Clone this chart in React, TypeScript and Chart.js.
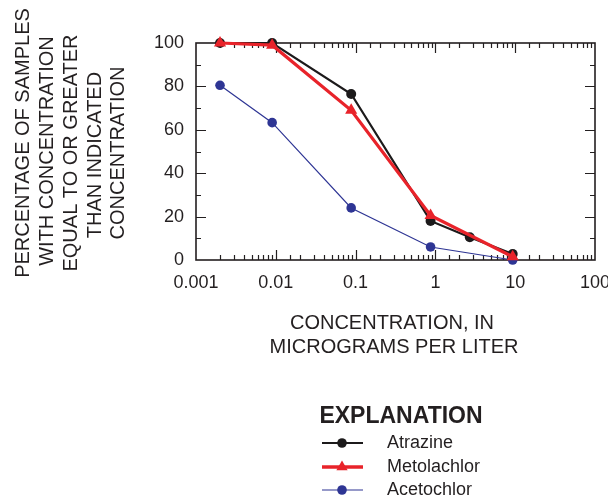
import React, { useEffect, useRef } from 'react';
import { Chart, registerables } from 'chart.js';

Chart.register(...registerables);

const FONT = '"Liberation Sans", Arial, Helvetica, sans-serif';
const INK = '#231f20';

const X_TICK_LABELS = ['0.001', '0.01', '0.1', '1', '10', '100'];
const Y_TICK_LABELS = ['0', '20', '40', '60', '80', '100'];

const ATRAZINE_X = [0.002, 0.009, 0.088, 0.87, 2.7, 9.3];
const ATRAZINE_Y = [100, 100, 76.5, 18, 10.5, 2.8];

const METOLACHLOR_X = [0.002, 0.009, 0.088, 0.87, 9.3];
const METOLACHLOR_Y = [100, 99, 69, 20.5, 1.5];

const ACETOCHLOR_X = [0.002, 0.009, 0.088, 0.87, 9.3];
const ACETOCHLOR_Y = [80.5, 63.3, 24, 6, 0];

const SERIES_NAMES = ['Atrazine', 'Metolachlor', 'Acetochlor'];
const Y_TITLE_LINES = [
  'PERCENTAGE OF SAMPLES',
  'WITH CONCENTRATION',
  'EQUAL TO OR GREATER',
  'THAN INDICATED',
  'CONCENTRATION',
];
const X_TITLE_LINES = ['CONCENTRATION, IN', 'MICROGRAMS PER LITER'];
const LEGEND_TITLE = 'EXPLANATION';

const COLORS = { atrazine: '#1c1a1b', metolachlor: '#e8232a', acetochlor: '#2e3594' };

const pts = (xs: number[], ys: number[]) => xs.map((x, i) => ({ x, y: ys[i] }));

const framePlugin = {
  id: 'frameTicks',
  beforeDatasetsDraw(chart: any) {
    const { ctx, chartArea: a, scales } = chart;
    ctx.save();
    ctx.strokeStyle = INK;
    ctx.lineWidth = 1.2;
    ctx.beginPath();
    for (const t of scales.x.ticks) {
      const v = t.value;
      const lg = Math.log10(v);
      const major = Math.abs(lg - Math.round(lg)) < 1e-6;
      const px = Math.round(scales.x.getPixelForValue(v)) + 0.5;
      if (px <= a.left + 1 || px >= a.right - 1) continue;
      const len = major ? 10 : 5;
      ctx.moveTo(px, a.bottom);
      ctx.lineTo(px, a.bottom - len);
      ctx.moveTo(px, a.top);
      ctx.lineTo(px, a.top + len);
    }
    for (const t of scales.y.ticks) {
      const v = t.value;
      const major = Math.abs(v % 20) < 1e-6;
      const py = Math.round(scales.y.getPixelForValue(v)) + 0.5;
      if (py <= a.top + 1 || py >= a.bottom - 1) continue;
      const len = major ? 10 : 5;
      ctx.moveTo(a.left, py);
      ctx.lineTo(a.left + len, py);
      ctx.moveTo(a.right, py);
      ctx.lineTo(a.right - len, py);
    }
    ctx.stroke();
    ctx.lineWidth = 1.6;
    ctx.strokeRect(a.left, a.top, a.right - a.left, a.bottom - a.top);
    ctx.restore();
  },
  afterDraw(chart: any) {
    const { ctx } = chart;
    ctx.save();
    ctx.fillStyle = INK;
    // Y title
    ctx.font = `20px ${FONT}`;
    ctx.textBaseline = 'middle';
    ctx.textAlign = 'center';
    const yCols = [23, 47, 71, 95, 118];
    const yCenters = [143, 151, 153, 155, 153];
    Y_TITLE_LINES.forEach((line, i) => {
      ctx.save();
      ctx.translate(yCols[i], yCenters[i]);
      ctx.rotate(-Math.PI / 2);
      ctx.fillText(line, 0, 0);
      ctx.restore();
    });
    // X title
    ctx.textAlign = 'center';
    ctx.fillText(X_TITLE_LINES[0], 392, 323);
    ctx.fillText(X_TITLE_LINES[1], 394, 347);
    // Legend
    ctx.font = `bold 23px ${FONT}`;
    ctx.fillText(LEGEND_TITLE, 401, 417);
    const rows = [443, 467, 490];
    const styles = [
      { c: COLORS.atrazine, w: 2, m: 'circle' },
      { c: COLORS.metolachlor, w: 3.5, m: 'triangle' },
      { c: COLORS.acetochlor, w: 1.2, m: 'circle' },
    ];
    ctx.font = `18px ${FONT}`;
    ctx.textAlign = 'left';
    SERIES_NAMES.forEach((name, i) => {
      const y = rows[i];
      const s = styles[i];
      ctx.strokeStyle = s.c;
      ctx.fillStyle = s.c;
      ctx.lineWidth = s.w;
      ctx.beginPath();
      ctx.moveTo(322, y);
      ctx.lineTo(363, y);
      ctx.stroke();
      ctx.beginPath();
      if (s.m === 'circle') {
        ctx.arc(342, y, 4.8, 0, Math.PI * 2);
      } else {
        const r = 6.5;
        ctx.moveTo(342, y - r);
        ctx.lineTo(342 + r * 0.866, y + r * 0.5);
        ctx.lineTo(342 - r * 0.866, y + r * 0.5);
        ctx.closePath();
      }
      ctx.fill();
      ctx.fillStyle = INK;
      ctx.fillText(name, 387, y);
    });
    ctx.restore();
  },
};

export default function App() {
  const ref = useRef<HTMLCanvasElement | null>(null);
  useEffect(() => {
    if (!ref.current) return;
    const chart = new Chart(ref.current, {
      type: 'line',
      data: {
        datasets: [
          {
            label: SERIES_NAMES[0],
            data: pts(ATRAZINE_X, ATRAZINE_Y),
            borderColor: COLORS.atrazine,
            backgroundColor: COLORS.atrazine,
            borderWidth: 2.2,
            pointRadius: 5,
            pointStyle: 'circle',
            pointBorderWidth: 0,
            order: 1,
            clip: false as any,
          },
          {
            label: SERIES_NAMES[1],
            data: pts(METOLACHLOR_X, METOLACHLOR_Y),
            borderColor: COLORS.metolachlor,
            backgroundColor: COLORS.metolachlor,
            borderWidth: 3.2,
            pointRadius: 7,
            pointStyle: 'triangle',
            pointBorderWidth: 0,
            order: 0,
            clip: false as any,
          },
          {
            label: SERIES_NAMES[2],
            data: pts(ACETOCHLOR_X, ACETOCHLOR_Y),
            borderColor: COLORS.acetochlor,
            backgroundColor: COLORS.acetochlor,
            borderWidth: 1.2,
            pointRadius: 4.8,
            pointStyle: 'circle',
            pointBorderWidth: 0,
            order: 2,
            clip: false as any,
          },
        ],
      },
      options: {
        responsive: false,
        animation: false,
        layout: { padding: { left: 0, top: 43, right: 13, bottom: 0 } },
        plugins: { legend: { display: false }, tooltip: { enabled: false }, title: { display: false } },
        scales: {
          x: {
            type: 'logarithmic',
            min: 0.001,
            max: 100,
            grid: { display: false, drawTicks: false },
            border: { display: false },
            ticks: {
              autoSkip: false,
              maxRotation: 0,
              padding: 12,
              color: INK,
              font: { family: FONT, size: 18 },
              callback: (v: any) => {
                const lg = Math.log10(Number(v));
                if (Math.abs(lg - Math.round(lg)) > 1e-6) return '';
                return X_TICK_LABELS[Math.round(lg) + 3] ?? '';
              },
            },
            afterFit: (s: any) => {
              s.height = 238;
              s.paddingLeft = 0;
              s.paddingRight = 0;
            },
          },
          y: {
            type: 'linear',
            min: 0,
            max: 100,
            grid: { display: false, drawTicks: false },
            border: { display: false },
            ticks: {
              stepSize: 10,
              autoSkip: false,
              padding: 12,
              color: INK,
              font: { family: FONT, size: 18 },
              callback: (v: any) => {
                const n = Number(v);
                if (Math.abs(n % 20) > 1e-6) return '';
                return Y_TICK_LABELS[Math.round(n / 20)] ?? '';
              },
            },
            afterFit: (s: any) => {
              s.width = 196;
              s.paddingTop = 0;
              s.paddingBottom = 0;
            },
          },
        },
      },
      plugins: [framePlugin],
    });
    return () => chart.destroy();
  }, []);
  return (
    <div style={{ position: 'absolute', left: 0, top: 0, width: 608, height: 498, background: '#fff' }}>
      <canvas ref={ref} width={608} height={498} style={{ display: 'block' }} />
    </div>
  );
}
